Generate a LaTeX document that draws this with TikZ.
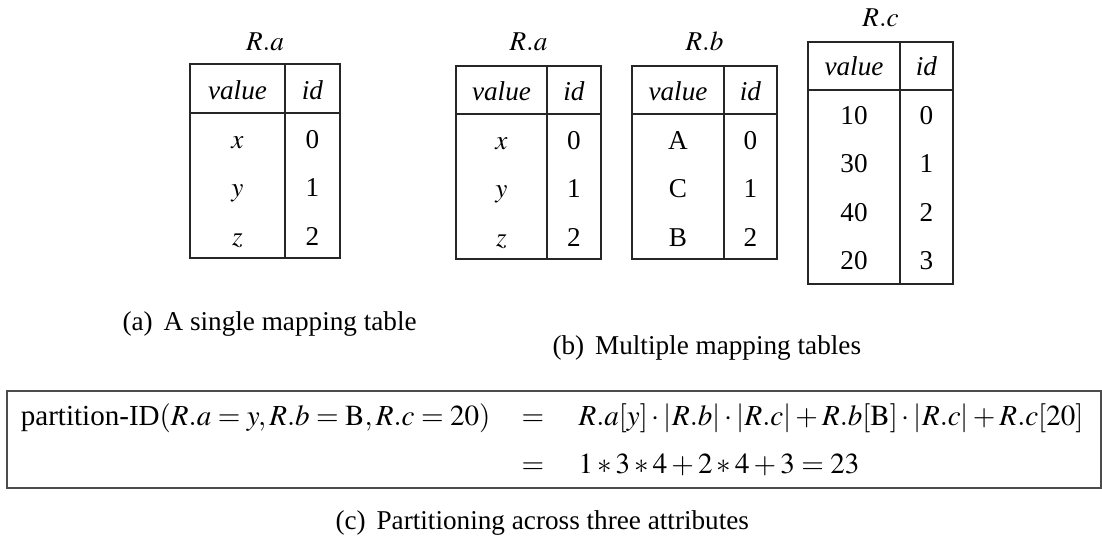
\documentclass[tikz,border=0pt]{standalone}
\usepackage{mathptmx}
\usepackage{fontspec}
\setmainfont{Liberation Serif}
\usetikzlibrary{positioning}

\begin{document}
\begin{tikzpicture}[x=0.375pt,y=-0.375pt,
  every node/.style={font=\fontsize{10.2pt}{12pt}\selectfont, inner sep=0pt},
  cell/.style={anchor=base},
  formula/.style={anchor=base, font=\fontsize{10.9pt}{13pt}\selectfont},
  frame/.style={draw=black!85, line width=0.45pt},
  box/.style={draw=black!70, line width=0.7pt}]
\useasboundingbox (0,0) rectangle (1102,537);

% (a) one table
\draw[frame] (190,64) rectangle (340,258);
\draw[frame] (285,64) -- (285,258);
\draw[frame] (190,113) -- (340,113);
\node[cell] (a-title) at (265,51) {$R.a$};
\node[cell] (a-hv) at (237.5,100) {\textit{value}};
\node[cell] (a-hi) at (312.5,100) {\textit{id}};
\foreach \v/\i/\y in {x/0/149, y/1/197, z/2/246}{
  \node[cell] (a-v\i) at (237.5,\y) {$\v$};
  \node[cell] (a-i\i) at (312.5,\y) {\i};
}
\node[cell, anchor=base west] (cap-a) at (122,331) {(a)\hspace{0.4em}A single mapping table};

% (b) one table per attribute
\draw[frame] (456,66) rectangle (601,259);
\draw[frame] (547,66) -- (547,259);
\draw[frame] (456,114) -- (601,114);
\node[cell] (ba-title) at (528.5,51) {$R.a$};
\node[cell] (ba-hv) at (501.5,101) {\textit{value}};
\node[cell] (ba-hi) at (574,101) {\textit{id}};
\foreach \v/\i/\y in {x/0/150, y/1/198, z/2/247}{
  \node[cell] (ba-v\i) at (501.5,\y) {$\v$};
  \node[cell] (ba-i\i) at (574,\y) {\i};
}

\draw[frame] (632,66) rectangle (777,259);
\draw[frame] (724,66) -- (724,259);
\draw[frame] (632,114) -- (777,114);
\node[cell] (bb-title) at (704.5,51) {$R.b$};
\node[cell] (bb-hv) at (678,101) {\textit{value}};
\node[cell] (bb-hi) at (750.5,101) {\textit{id}};
\foreach \v/\i/\y in {A/0/150, C/1/198, B/2/247}{
  \node[cell] (bb-v\i) at (678,\y) {\v};
  \node[cell] (bb-i\i) at (750.5,\y) {\i};
}

\draw[frame] (808,42) rectangle (953,284);
\draw[frame] (900,42) -- (900,284);
\draw[frame] (808,90) -- (953,90);
\node[cell] (bc-title) at (880.5,27) {$R.c$};
\node[cell] (bc-hv) at (854,76) {\textit{value}};
\node[cell] (bc-hi) at (926.5,76) {\textit{id}};
\foreach \v/\i/\y in {10/0/125, 30/1/173, 40/2/222, 20/3/270}{
  \node[cell] (bc-v\i) at (854,\y) {\v};
  \node[cell] (bc-i\i) at (926.5,\y) {\i};
}
\node[cell, anchor=base west] (cap-b) at (552,355) {(b)\hspace{0.4em}Multiple mapping tables};

% (c) the formula
\draw[box] (7,391) rectangle (1101,488);
\node[formula, anchor=base east] (lhs) at (491,426) {partition-ID$(R.a=y, R.b=\mathrm{B}, R.c=20)$};
\node[formula] (eq1) at (533,426) {$=$};
\node[formula, anchor=base west] (rhs1) at (578,426) {$R.a[y]\cdot|R.b|\cdot|R.c|+R.b[\mathrm{B}]\cdot|R.c|+R.c[20]$};
\node[formula] (eq2) at (533,474) {$=$};
\node[formula, anchor=base west] (rhs2) at (578,474) {$1*3*4+2*4+3=23$};
\node[cell, anchor=base west] (cap-c) at (335,530) {(c)\hspace{0.4em}Partitioning across three attributes};
\end{tikzpicture}
\end{document}
